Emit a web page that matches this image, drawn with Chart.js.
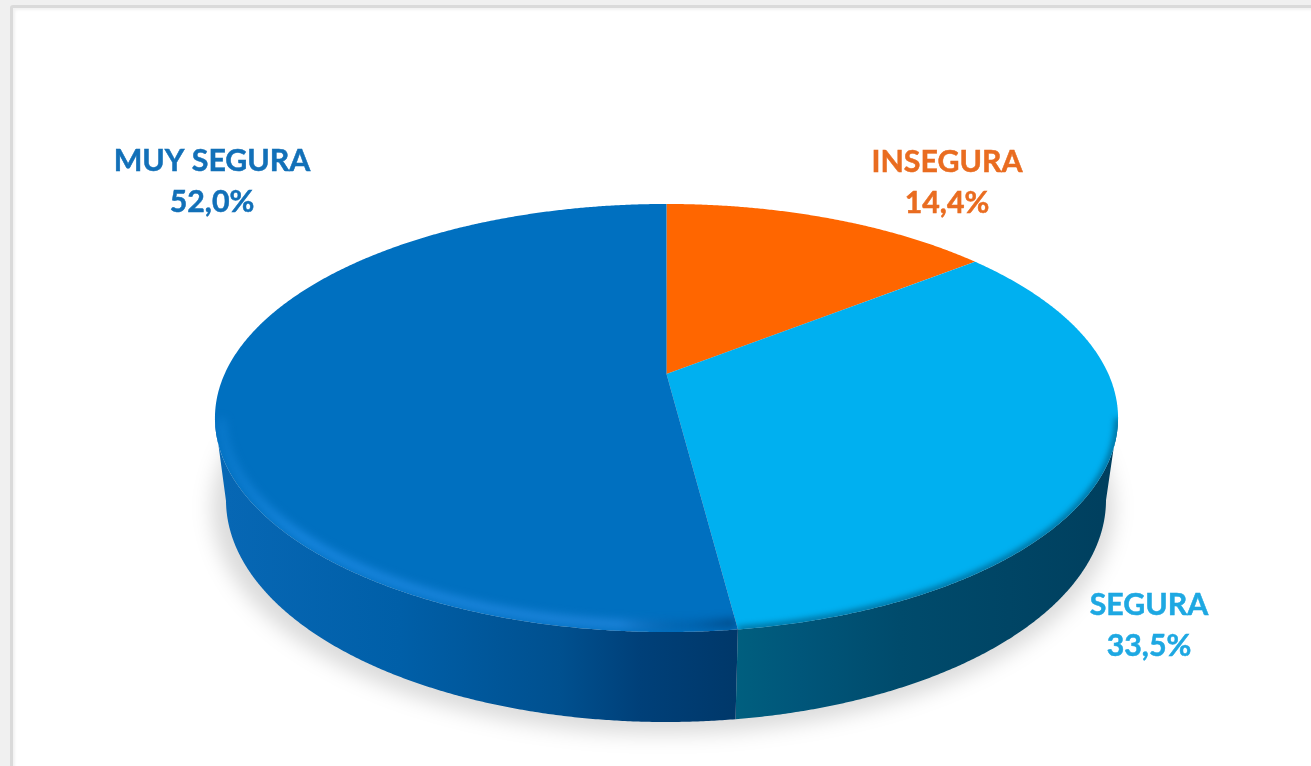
<!DOCTYPE html>
<html><head><meta charset="utf-8">
<script src="https://cdn.jsdelivr.net/npm/chart.js@4/dist/chart.umd.js"></script>
<style>
html,body{margin:0;padding:0;width:1311px;height:766px;overflow:hidden;background:#f0f0f0}
#frame{position:absolute;left:10px;top:5px;width:1400px;height:900px;background:#fff;border:3px solid #dadada;border-radius:3px;box-shadow:inset 2px 2px 3px #f2f2f2}
#wrap{position:absolute;left:0;top:0;width:1311px;height:766px}
#c{filter:blur(0.6px)}
</style></head><body>
<div id="frame"></div>
<div id="wrap"><canvas id="c" width="1311" height="766"></canvas></div>
<script>
const categories = ['INSEGURA', 'SEGURA', 'MUY SEGURA'];
const values = [14.4, 33.5, 52.0];
const sliceColors = ['#ff6600', '#00b0f0', '#0070c0'];
const labelColors = ['#e96c20', '#1ea8e2', '#1270b8'];

// perspective of the disc
const G = {x0:666.5, y0:374, A:205, B:441.9, k:0.2056,
           ex:666.5, ey:418, erx:451.5, ery:214,
           bx:666, by:500, brx:440, bry:222};
const labelPos = [[947,162],[1149,605],[212,161]];
const wallStops = [
  null,
  [[735,'#005f7f'],[800,'#00567a'],[900,'#004b6c'],[1118,'#003f5e']],
  [[226,'#0767b4'],[400,'#005fa8'],[560,'#00508f'],[640,'#004079'],[735,'#00386a']]
];
const rimStops = [
  null,
  [[735,'rgba(0,75,110,.8)'],[1118,'rgba(0,75,110,.85)']],
  [[215,'rgba(40,150,240,.25)'],[300,'rgba(40,150,245,.7)'],[620,'rgba(50,145,235,.7)'],[690,'rgba(0,60,120,.3)'],[735,'rgba(0,50,100,.75)']]
];
const rimInset = [0, 0, 0.03];
const rimWidth = [0, 5, 8];
const rimBlur = [0, 3, 5];

function project(a){
  const u=Math.cos(a), v=Math.sin(a), w=1-G.k*v;
  return [G.x0+G.B*u/w, G.y0+G.A*v/w];
}
function bottomOf(p){
  const phi=Math.atan2((p[1]-G.ey)/G.ery,(p[0]-G.ex)/G.erx);
  return [G.bx+G.brx*Math.cos(phi), G.by+G.bry*Math.sin(phi)];
}
function hGrad(ctx,stops){
  const x0=stops[0][0], x1=stops[stops.length-1][0];
  const g=ctx.createLinearGradient(x0,0,x1,0);
  stops.forEach(s=>g.addColorStop((s[0]-x0)/(x1-x0),s[1]));
  return g;
}
function sample(s,e){
  const n=Math.max(2,Math.ceil((e-s)/0.005)), r=[];
  for(let i=0;i<=n;i++) r.push(s+(e-s)*i/n);
  return r;
}
function drawSlice(ctx,el,i){
  const pts=sample(el.startAngle,el.endAngle).map(project);
  const front=pts.filter(p=>p[1]>=G.ey);
  if(front.length>1 && wallStops[i]){
    ctx.beginPath();
    front.forEach((p,j)=>j?ctx.lineTo(p[0],p[1]):ctx.moveTo(p[0],p[1]));
    front.slice().reverse().map(bottomOf).forEach(p=>ctx.lineTo(p[0],p[1]));
    ctx.closePath();
    ctx.fillStyle=hGrad(ctx,wallStops[i]);
    ctx.fill();
  }
  const path=new Path2D();
  path.moveTo(G.x0,G.y0);
  pts.forEach(p=>path.lineTo(p[0],p[1]));
  path.closePath();
  ctx.fillStyle=el.options.backgroundColor;
  ctx.fill(path);
  if(front.length>1 && rimStops[i]){
    ctx.save();
    ctx.clip(path);
    ctx.filter='blur('+rimBlur[i]+'px)';
    ctx.beginPath();
    const ins=rimInset[i];
    front.forEach((p,j)=>{const q=[p[0]+(G.x0-p[0])*ins*0.5,p[1]+(G.ey-p[1])*ins]; j?ctx.lineTo(q[0],q[1]):ctx.moveTo(q[0],q[1]);});
    ctx.strokeStyle=hGrad(ctx,rimStops[i]);
    ctx.lineWidth=rimWidth[i];
    ctx.stroke();
    ctx.restore();
  }
}
const disc3d={
  id:'disc3d',
  beforeDatasetsDraw(chart){
    const ctx=chart.ctx;
    ctx.save();
    ctx.filter='blur(10px)';
    ctx.fillStyle='rgba(0,0,0,.14)';
    ctx.beginPath();
    ctx.ellipse(G.bx-3,G.by+8,G.brx+11,G.bry+4,0,0,Math.PI*2);
    ctx.fill();
    ctx.restore();
    chart.getDatasetMeta(0).data.forEach((el,i)=>{
      el.draw=function(c){c.save();drawSlice(c,this,i);c.restore();};
    });
  },
  afterDraw(chart){
    const ctx=chart.ctx;
    ctx.save();
    ctx.font='bold 30.3px Lato';
    ctx.textAlign='center';
    ctx.textBaseline='middle';
    ctx.lineWidth=0.5;
    categories.forEach((name,i)=>{
      ctx.fillStyle=labelColors[i];
      ctx.strokeStyle=labelColors[i];
      const pct=values[i].toFixed(1).replace('.',',')+'%';
      ctx.fillText(name,labelPos[i][0],labelPos[i][1]);
      ctx.strokeText(name,labelPos[i][0],labelPos[i][1]);
      ctx.fillText(pct,labelPos[i][0],labelPos[i][1]+41);
      ctx.strokeText(pct,labelPos[i][0],labelPos[i][1]+41);
    });
    ctx.restore();
  }
};
new Chart(document.getElementById('c'),{
  type:'pie',
  data:{labels:categories,datasets:[{data:values,backgroundColor:sliceColors,borderWidth:0}]},
  options:{responsive:false,animation:false,
    plugins:{legend:{display:false},tooltip:{enabled:false},title:{display:false}}},
  plugins:[disc3d]
});
</script>
</body></html>
